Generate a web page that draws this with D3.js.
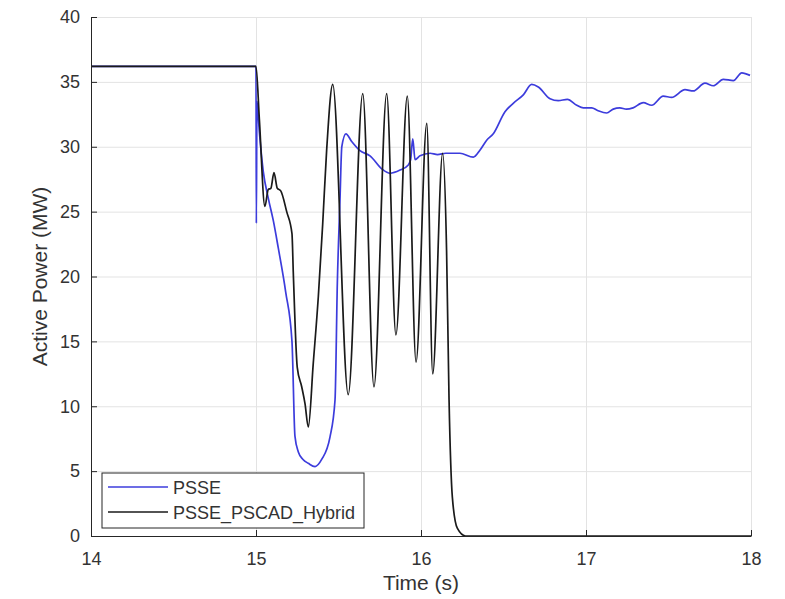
<!DOCTYPE html>
<html>
<head>
<meta charset="utf-8">
<script src="https://cdn.jsdelivr.net/npm/d3@7"></script>
<style>
  body { margin: 0; background: #fff; }
  text { font-family: "Liberation Sans", Arial, Helvetica, sans-serif; }
</style>
</head>
<body>
<div id="chart"></div>
<script>
// values
let xTicks = [14, 15, 16, 17, 18];
let yTicks = [0, 5, 10, 15, 20, 25, 30, 35, 40];
let seriesNames = ["PSSE", "PSSE_PSCAD_Hybrid"];

let psseTime = [14.0, 15.0, 15.002, 15.006, 15.02, 15.044, 15.075, 15.105, 15.135, 15.18,
  15.218, 15.236, 15.256, 15.285, 15.317, 15.358, 15.398, 15.448, 15.479, 15.493,
  15.509, 15.52, 15.545, 15.58, 15.63, 15.691, 15.762, 15.812, 15.873, 15.923,
  15.937, 15.95, 15.964, 15.994, 16.055, 16.1, 16.15, 16.236, 16.317, 16.358,
  16.398, 16.438, 16.509, 16.559, 16.62, 16.671, 16.711, 16.782, 16.832, 16.887,
  16.944, 16.984, 17.035, 17.07, 17.125, 17.165, 17.205, 17.245, 17.285, 17.347,
  17.398, 17.468, 17.519, 17.6, 17.65, 17.721, 17.771, 17.832, 17.893, 17.944, 17.994];
let psseValue = [36.2, 36.2, 24.1, 33.5, 31.2, 28.1, 26.0, 24.3, 22.2, 18.8,
  15.0, 7.7, 6.5, 5.9, 5.6, 5.35, 5.9, 7.6, 10.5, 19.5,
  25.9, 30.0, 31.0, 30.4, 29.7, 29.3, 28.3, 27.95, 28.2, 28.6,
  29.0, 30.6, 29.0, 29.3, 29.5, 29.4, 29.5, 29.5, 29.2, 29.75,
  30.5, 31.0, 32.7, 33.35, 34.0, 34.8, 34.6, 33.7, 33.55, 33.65,
  33.2, 33.0, 33.0, 32.8, 32.6, 32.9, 33.0, 32.9, 33.0, 33.4,
  33.2, 33.9, 33.8, 34.4, 34.3, 34.9, 34.7, 35.2, 35.1, 35.7, 35.5];

let hybridTime = [14.0, 15.0, 15.02, 15.054, 15.074, 15.09, 15.109, 15.129, 15.15, 15.186,
  15.218, 15.226, 15.25, 15.277, 15.297, 15.317, 15.347, 15.378, 15.404, 15.428,
  15.465, 15.559, 15.647, 15.715, 15.792, 15.848, 15.917, 15.97, 16.035, 16.071,
  16.131, 16.155, 16.17, 16.19, 16.22, 16.27, 18.0];
let hybridValue = [36.2, 36.2, 32.2, 25.4, 26.7, 26.8, 28.0, 26.8, 26.6, 25.0,
  23.3, 20.3, 13.0, 11.5, 10.2, 8.4, 13.3, 18.5, 24.0, 29.7,
  34.8, 10.9, 34.1, 11.5, 34.1, 15.5, 33.9, 13.4, 31.8, 12.5,
  29.5, 22.0, 10.5, 3.0, 0.6, 0, 0];

let width = 785, height = 599;
let margin = { top: 17, right: 34, bottom: 63, left: 91 };
let axisColor = "#262626";

let svg = d3.select("#chart").append("svg")
  .attr("width", width)
  .attr("height", height);

let xScale = d3.scaleLinear()
  .domain([14, 18])
  .range([margin.left, width - margin.right]);
let yScale = d3.scaleLinear()
  .domain([0, 40])
  .range([height - margin.bottom, margin.top]);

// grid
svg.append("g")
  .attr("class", "x-grid")
  .attr("transform", `translate(0,${ height - margin.bottom })`)
  .call(d3.axisBottom(xScale).tickValues(xTicks).tickSize(-(height - margin.top - margin.bottom)).tickFormat(""))
  .call(g => g.select(".domain").remove())
  .call(g => g.selectAll("line").attr("stroke", "#e3e3e3"));
svg.append("g")
  .attr("class", "y-grid")
  .attr("transform", `translate(${ margin.left },0)`)
  .call(d3.axisLeft(yScale).tickValues(yTicks).tickSize(-(width - margin.left - margin.right)).tickFormat(""))
  .call(g => g.select(".domain").remove())
  .call(g => g.selectAll("line").attr("stroke", "#e3e3e3"));

// series
let series = [
  { name: seriesNames[0], color: "#3c3cdc", data: psseTime.map((t, i) => ({ t: t, v: psseValue[i] })) },
  { name: seriesNames[1], color: "#1a1a1a", data: hybridTime.map((t, i) => ({ t: t, v: hybridValue[i] })) }
];

let line = d3.line()
  .x(d => xScale(d.t))
  .y(d => yScale(d.v))
  .curve(d3.curveMonotoneX);

// hybrid drawn last so it sits on top
series.forEach(s => {
  svg.append("path")
    .datum(s.data)
    .attr("fill", "none")
    .attr("stroke", s.color)
    .attr("stroke-width", 1.7)
    .attr("stroke-linejoin", "round")
    .attr("d", line);
});

// axes, ticks pointing inward
let xAxis = svg.append("g")
  .attr("transform", `translate(0,${ height - margin.bottom })`)
  .call(d3.axisBottom(xScale).tickValues(xTicks).tickFormat(d3.format("d"))
    .tickSizeInner(-6).tickSizeOuter(0).tickPadding(16));
let yAxis = svg.append("g")
  .attr("transform", `translate(${ margin.left },0)`)
  .call(d3.axisLeft(yScale).tickValues(yTicks).tickFormat(d3.format("d"))
    .tickSizeInner(-6).tickSizeOuter(0).tickPadding(11));

[xAxis, yAxis].forEach(g => {
  g.select(".domain").attr("stroke", axisColor);
  g.selectAll("line").attr("stroke", axisColor);
  g.selectAll("text")
    .attr("fill", "#333")
    .style("font-size", "18px");
});

svg.append("text")
  .attr("x", (margin.left + width - margin.right) / 2)
  .attr("y", 590)
  .attr("text-anchor", "middle")
  .attr("fill", "#333")
  .style("font-size", "21px")
  .text("Time (s)");

svg.append("text")
  .attr("transform", `translate(47,${ (margin.top + height - margin.bottom) / 2 }) rotate(-90)`)
  .attr("text-anchor", "middle")
  .attr("fill", "#333")
  .style("font-size", "21px")
  .text("Active Power (MW)");

// legend
let legend = svg.append("g")
  .attr("transform", "translate(102,473)");
legend.append("rect")
  .attr("width", 262)
  .attr("height", 55)
  .attr("fill", "#fff")
  .attr("stroke", axisColor)
  .attr("stroke-width", 1);

let rows = legend.selectAll(".row")
  .data(series)
  .enter()
  .append("g")
  .attr("class", "row")
  .attr("transform", (d, i) => `translate(0,${ 14 + i * 25 })`);
rows.append("line")
  .attr("x1", 6)
  .attr("x2", 66)
  .attr("stroke", d => d.color)
  .attr("stroke-width", 1.7);
rows.append("text")
  .attr("x", 71)
  .attr("y", 7)
  .attr("fill", "#333")
  .style("font-size", "18px")
  .text(d => d.name);
</script>
</body>
</html>
